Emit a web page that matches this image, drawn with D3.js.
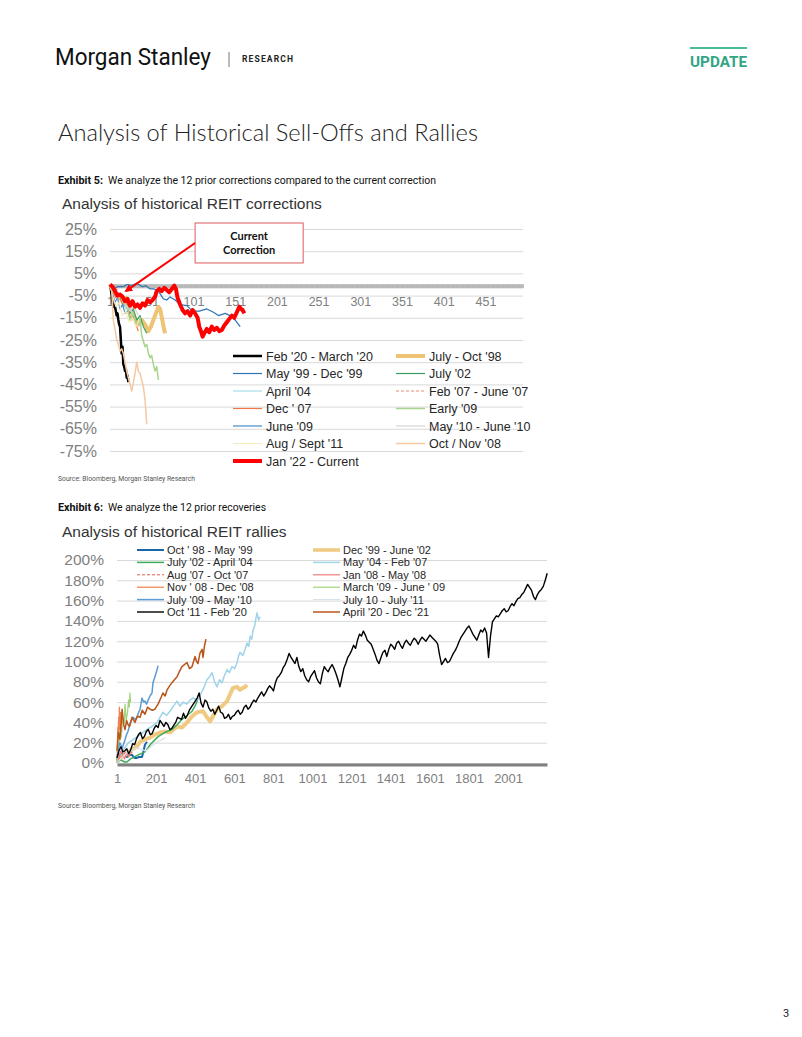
<!DOCTYPE html>
<html><head><meta charset="utf-8">
<script src="https://cdn.jsdelivr.net/npm/d3@7"></script>
<style>body{margin:0;background:#fff}svg{display:block}</style>
</head><body>
<svg id="page" width="802" height="1037"></svg>
<script>
// ---------------- DATA: chart 1 (corrections) ----------------
const c1Ticks = [1, 51, 101, 151, 201, 251, 301, 351, 401, 451];
const c1YTicks = [25, 15, 5, -5, -15, -25, -35, -45, -55, -65, -75];
// [day, % change]
const feb20 = [[1,0],[2,-2],[3,-5],[4,-8],[5,-10],[6,-9],[7,-10],[8,-12],[9,-14],[10,-13],[11,-16],[12,-18],[13,-19],[14,-25],[15,-31],[16,-28],[17,-36],[18,-37],[19,-39],[20,-38],[21,-42],[22,-41],[23,-44]];
const jul98 = [[1,0],[5,-3],[10,-5],[15,-7],[20,-6],[23,-8],[27,-12],[31,-15.5],[35,-18],[39,-16],[43,-18],[47,-21],[50,-19],[53,-16],[57,-12],[59,-10],[61,-11],[63,-14.6],[65,-18.7],[67,-22]];
const may99 = [[1,0],[5,-2],[10,-1],[17,-1],[21,0],[27,-0.5],[33,0.5],[40,-1],[44,-0.5],[49,-2],[54,-2],[59,-3],[65,-6.5],[69,-7],[73,-5.6],[79,-7],[85,-9],[93,-9.5],[100,-12],[108,-12],[117,-11],[125,-12.5],[131,-14],[139,-13],[145,-14],[151,-16],[155,-18],[157,-19]];
const jul02 = [[1,0],[5,-2],[9,-6],[13,-5],[17,-10],[21,-8],[25,-13],[29,-11],[33,-16],[37,-14],[41,-19],[45,-22]];
const apr04 = [[1,0],[4,-2],[8,-5],[12,-4],[16,-8],[20,-11],[24,-9],[28,-14],[32,-16]];
const feb07 = [[1,0],[5,-3],[9,-2],[13,-6],[17,-5],[21,-9],[25,-8],[28,-11]];
const dec07 = [[1,0],[4,-3],[8,-6],[12,-5],[16,-9],[20,-8],[24,-13],[27,-16],[30,-14],[33,-19],[35,-21]];
const early09 = [[1,0],[5,-2],[11,-6],[13,-4],[17,-8],[21,-10],[25,-16],[29,-13],[32,-17],[35,-18],[37,-15],[39,-23],[43,-28],[45,-27],[47,-31],[49,-33],[51,-32],[53,-36],[55,-39],[57,-37],[59,-43]];
const jun09 = [[1,0],[4,-4],[7,-8],[10,-6],[13,-11],[16,-9],[19,-13],[22,-12]];
const may10 = [[1,0],[5,-3],[10,-6],[15,-5],[20,-9],[25,-12],[30,-10],[35,-14]];
const aug11 = [[1,0],[4,-5],[8,-10],[12,-8],[16,-14],[20,-12],[24,-17],[28,-15],[32,-19],[36,-16]];
const octNov08 = [[1,0],[3,-2],[5,-16],[7,-20],[9,-25],[11,-27],[13,-30],[15,-29],[17,-31],[19,-35],[21,-39],[23,-42],[25,-45],[27,-48],[29,-44],[31,-40],[33,-35],[35,-39],[37,-40],[39,-43],[41,-46],[43,-52],[44,-57],[45,-63]];
const jan22 = [[1,0],[4,-1],[7,-3],[10,-5],[13,-4.5],[16,-5.5],[19,-7.5],[22,-6.5],[25,-9.5],[28,-7.5],[31,-10],[34,-9],[37,-10.5],[40,-8.5],[43,-9.5],[46,-7],[49,-8],[52,-7],[55,-5.5],[57,-3],[60,-2],[63,-3],[66,-1.5],[69,-2.5],[72,-3.5],[75,-2],[78,-0.5],[80,-2],[82,-6],[85,-9],[88,-11.5],[91,-13],[94,-12],[97,-14],[100,-11.5],[103,-13],[106,-15],[108,-19],[110,-21],[112,-23.5],[114,-22],[117,-20],[120,-21.5],[123,-19],[126,-20.5],[129,-19.5],[132,-21],[135,-20.5],[138,-18.5],[141,-17],[144,-15.5],[147,-14],[150,-15],[153,-12.5],[156,-10],[158,-11],[160,-11.5],[162,-13]];

// ---------------- DATA: chart 2 (rallies) ----------------
const c2Ticks = [1, 201, 401, 601, 801, 1001, 1201, 1401, 1601, 1801, 2001];
const c2YTicks = [0, 20, 40, 60, 80, 100, 120, 140, 160, 180, 200];
const oct98 = [[1,3],[10,8],[27,10],[40,7],[52,6],[65,8],[78,8],[90,5],[103,5],[115,6],[129,6],[137,12],[144,18],[154,21]];
const dec99 = [[1,3],[20,5],[40,8],[52,9],[75,13],[103,16],[119,21],[140,23],[170,25],[195,28],[221,30],[245,31],[272,30],[290,33],[308,36],[333,35],[359,40],[385,46],[410,50],[441,51],[461,45],[477,41],[495,47],[513,53],[538,56],[564,61],[580,68],[594,74],[615,75],[630,72],[645,74],[656,75],[666,77]];
const jul02r = [[1,0],[20,3],[40,1],[52,1],[70,4],[90,6],[110,8],[144,11],[175,19],[211,26],[245,30],[282,33],[310,38],[333,43],[360,47],[385,51],[400,56],[415,63]];
const may04 = [[1,3],[20,10],[40,15],[60,20],[83,23],[120,28],[154,33],[180,36],[206,40],[236,50],[255,47],[272,51],[290,56],[308,61],[323,56],[340,60],[359,58],[375,62],[390,64],[410,62],[426,67],[445,74],[461,82],[475,85],[487,89],[500,80],[513,75],[525,82],[538,79],[550,86],[564,92],[576,89],[589,95],[603,93],[615,99],[622,105],[630,109],[645,106],[656,112],[666,118],[675,115],[682,125],[690,122],[697,131],[705,135],[711,142],[717,148],[725,141],[733,144]];
const aug07 = [[1,0],[10,3],[20,8],[30,6],[40,10],[50,12]];
const jan08 = [[1,0],[10,5],[20,12],[30,8],[40,4],[50,10],[60,6],[70,9],[80,11]];
const nov08 = [[1,0],[3,20],[5,35],[7,28],[9,45],[11,30],[13,55],[15,40],[17,33],[19,50],[21,38],[23,45],[25,30]];
const mar09 = [[1,0],[8,15],[15,30],[22,25],[30,45],[38,40],[42,58],[48,42],[55,50],[60,62],[64,55],[67,69],[70,60]];
const jul09 = [[1,5],[15,20],[28,15],[42,23],[50,28],[57,31],[70,40],[83,45],[95,43],[103,45],[112,50],[119,53],[129,64],[137,60],[144,61],[152,58],[160,62],[170,66],[180,69],[185,79],[195,85],[206,92],[211,96]];
const jul10 = [[1,0],[50,10],[100,15],[150,12],[200,20],[250,25]];
// Oct '11 - Feb '20, one reading every 10 trading days starting at day 1
const oct11Days = d3.range(1, 2202, 10);
const oct11Vals = [5,12,16,11,12,14,9,13,19,18, 24,28,30,24,26,31,33,28,29,34, 37,35,42,39,36,40,38,33,34,37,
  40,45,44,43,49,44,47,52,55,58, 61,64,69,59,55,62,60,54,51,53, 48,52,56,50,49,44,45,48,43,46,
  47,50,52,48,50,55,57,53,55,59, 62,60,64,67,70,66,69,73,76,74, 71,79,84,86,89,94,97,102,108,104,
  101,98,104,95,90,93,86,82,80,85, 88,91,84,80,78,88,95,92,90,94, 97,93,88,82,75,84,93,98,104,107,
  111,116,113,121,127,125,130,126,121,119, 117,112,107,101,98,104,109,111,105,112, 117,115,112,118,120,116,113,118,121,118,
  116,120,123,121,117,121,124,122,120,123, 126,124,122,120,117,106,97,100,103,99, 100,104,108,111,115,120,124,127,130,133,
  135,131,127,124,121,126,131,129,133,128, 104,125,139,142,145,144,147,150,152,149, 150,154,157,155,159,162,163,166,168,172,
  176,173,170,164,161,166,169,171,174,180, 187];
const apr20 = [[1,12],[8,30],[16,23],[27,53],[35,38],[42,33],[50,42],[57,38],[65,36],[78,45],[93,40],[105,46],[119,45],[130,52],[144,48],[157,55],[170,53],[182,52],[195,53],[211,58],[225,64],[236,69],[247,66],[257,72],[270,76],[282,79],[295,82],[308,85],[320,90],[333,95],[346,97],[359,99],[372,93],[385,95],[400,105],[408,100],[415,98],[425,108],[436,112],[441,104],[448,115],[456,122]];

// ---------------- STYLE CONFIG ----------------
const series1 = [
  {name:"Feb '20 - March '20", data:feb20, color:"#000000", w:2.5},
  {name:"July - Oct '98", data:jul98, color:"#eec373", w:4},
  {name:"May '99 - Dec '99", data:may99, color:"#2e75b6", w:1.2},
  {name:"July '02", data:jul02, color:"#3a9d5d", w:1.2},
  {name:"April '04", data:apr04, color:"#a9dbe8", w:1.2},
  {name:"Feb '07 - June '07", data:feb07, color:"#e8877a", w:1.2, dash:"3,2"},
  {name:"Dec ' 07", data:dec07, color:"#f07848", w:1.2},
  {name:"Early '09", data:early09, color:"#a6d48a", w:1.5},
  {name:"June '09", data:jun09, color:"#4a8cc8", w:1.2},
  {name:"May '10 - June '10", data:may10, color:"#d5d5d5", w:1.2},
  {name:"Aug / Sept '11", data:aug11, color:"#f5ecc0", w:1.2},
  {name:"Oct / Nov '08", data:octNov08, color:"#f5c8a2", w:1.5},
  {name:"Jan '22 - Current", data:jan22, color:"#ff0000", w:4}
];
const series2 = [
  {name:"Oct ' 98 - May '99", data:oct98, color:"#1a66aa", w:2},
  {name:"Dec '99 - June '02", data:dec99, color:"#efca80", w:4},
  {name:"July '02 - April '04", data:jul02r, color:"#3cab5a", w:1.5},
  {name:"May '04 - Feb '07", data:may04, color:"#9fd4ea", w:1.5},
  {name:"Aug '07 - Oct '07", data:aug07, color:"#e0604a", w:1, dash:"3,2"},
  {name:"Jan '08 - May '08", data:jan08, color:"#f07a7a", w:1.2},
  {name:"Nov ' 08 - Dec '08", data:nov08, color:"#f08050", w:1.2},
  {name:"March '09 - June ' 09", data:mar09, color:"#9fd27a", w:1.2},
  {name:"July '09 - May '10", data:jul09, color:"#5b9bd5", w:1.5},
  {name:"July 10 - July '11", data:jul10, color:"#d9e2ec", w:1.2},
  {name:"Oct '11 - Feb '20", data:oct11Days.map((d,i)=>[d, oct11Vals[i]]), color:"#000000", w:1.4},
  {name:"April '20 - Dec '21", data:apr20, color:"#b8561a", w:1.5}
];

const svg = d3.select("#page");
const SANS = "'Liberation Sans', Arial, sans-serif";
const RB = "Roboto, 'Liberation Sans', sans-serif";

// ---------------- HEADER ----------------
svg.append("text").attr("x",55).attr("y",65).attr("font-family",RB).attr("font-size",24)
  .attr("fill","#111").attr("textLength",156).attr("lengthAdjust","spacingAndGlyphs").text("Morgan Stanley");
svg.append("line").attr("x1",229).attr("x2",229).attr("y1",52).attr("y2",67).attr("stroke","#777").attr("stroke-width",1);
svg.append("text").attr("x",242).attr("y",62).attr("font-family",RB).attr("font-weight","bold").attr("font-size",8.5)
  .attr("fill","#222").attr("textLength",51).attr("lengthAdjust","spacing").text("RESEARCH");
svg.append("line").attr("x1",690).attr("x2",747).attr("y1",48).attr("y2",48).attr("stroke","#4cbb9a").attr("stroke-width",2);
svg.append("text").attr("x",690).attr("y",67).attr("font-family",RB).attr("font-weight","bold").attr("font-size",15)
  .attr("fill","#32a584").attr("textLength",57).attr("lengthAdjust","spacingAndGlyphs").text("UPDATE");
svg.append("text").attr("x",58).attr("y",141).attr("font-family","Lato, 'Open Sans', sans-serif").attr("font-weight",300)
  .attr("font-size",24).attr("fill","#222").attr("textLength",420).attr("lengthAdjust","spacingAndGlyphs")
  .text("Analysis of Historical Sell-Offs and Rallies");

function exhibit(y, label, txt, x2){
  svg.append("text").attr("x",58).attr("y",y).attr("font-family",RB).attr("font-weight","bold").attr("font-size",10)
    .attr("fill","#111").attr("textLength",45).attr("lengthAdjust","spacingAndGlyphs").text(label);
  svg.append("text").attr("x",108).attr("y",y).attr("font-family",RB).attr("font-size",10)
    .attr("fill","#111").attr("textLength",x2-108).attr("lengthAdjust","spacingAndGlyphs").text(txt);
}
exhibit(184, "Exhibit 5:", "We analyze the 12 prior corrections compared to the current correction", 436);
exhibit(511, "Exhibit 6:", "We analyze the 12 prior recoveries", 266);

function source(y){
  svg.append("text").attr("x",58).attr("y",y).attr("font-family",RB).attr("font-size",7.5)
    .attr("fill","#555").attr("textLength",137).attr("lengthAdjust","spacingAndGlyphs")
    .text("Source: Bloomberg, Morgan Stanley Research");
}
source(481);
source(808);
svg.append("text").attr("x",786).attr("y",1017).attr("font-family",RB).attr("font-size",11).attr("fill","#222")
  .attr("text-anchor","middle").text("3");

// ---------------- CHART 1 ----------------
const x1 = d3.scaleLinear().domain([1, 496]).range([110, 523]);
const y1 = d3.scaleLinear().domain([-75, 25]).range([451, 229]);

svg.append("text").attr("x",62).attr("y",209).attr("font-family",SANS).attr("font-size",15.5).attr("fill","#333")
  .text("Analysis of historical REIT corrections");

const g1y = svg.append("g").attr("transform",`translate(${x1.range()[0]},0)`)
  .call(d3.axisLeft(y1).tickValues(c1YTicks).tickSize(-(x1.range()[1]-x1.range()[0])).tickPadding(13).tickFormat(d=>d+"%"));
g1y.select(".domain").remove();
g1y.selectAll(".tick line").attr("stroke","#d9d9d9").attr("stroke-width",1);
g1y.selectAll(".tick text").attr("font-family",SANS).attr("font-size",16).attr("fill","#808080");

// hatched category axis
const g1h = svg.append("g").attr("transform",`translate(0,${y1(0)-0.5})`)
  .call(d3.axisBottom(x1).tickValues(d3.range(1,497)).tickSize(4).tickSizeOuter(0).tickFormat(""));
g1h.select(".domain").attr("stroke","#d2d2d2").attr("stroke-width",4).attr("transform","translate(0,2)");
g1h.selectAll(".tick line").attr("stroke","#a3a3a3").attr("stroke-width",0.5);

const g1x = svg.append("g").attr("transform","translate(0,297)")
  .call(d3.axisBottom(x1).tickValues(c1Ticks).tickSize(0).tickPadding(0).tickFormat(d3.format("d")));
g1x.select(".domain").remove();
g1x.selectAll(".tick text").attr("font-family",SANS).attr("font-size",12.5).attr("fill","#808080");

const line1 = d3.line().x(d=>x1(d[0])).y(d=>y1(d[1]));
series1.forEach(s=>{
  svg.append("path").datum(s.data).attr("d",line1).attr("fill","none").attr("stroke",s.color)
    .attr("stroke-width",s.w).attr("stroke-linejoin","round").attr("stroke-dasharray",s.dash||null);
});

// annotation (placed in data units)
const ann = {box:[103, 232.5, 27.7, 9.7], from:[103, 18.7], to:[20, -3]};
svg.append("rect").attr("x",x1(ann.box[0])).attr("y",y1(ann.box[2]))
  .attr("width",x1(ann.box[1])-x1(ann.box[0])).attr("height",y1(ann.box[3])-y1(ann.box[2]))
  .attr("fill","#fff").attr("stroke","#e05a5a").attr("stroke-width",1);
const cx = (x1(ann.box[0])+x1(ann.box[1]))/2;
svg.append("text").attr("x",cx).attr("y",y1(20)).attr("text-anchor","middle").attr("font-family","Lato, 'Open Sans', sans-serif")
  .attr("font-weight","bold").attr("font-size",11).attr("fill","#111").text("Current");
svg.append("text").attr("x",cx).attr("y",y1(13.6)).attr("text-anchor","middle").attr("font-family","Lato, 'Open Sans', sans-serif")
  .attr("font-weight","bold").attr("font-size",11).attr("fill","#111").text("Correction");
svg.append("defs").append("marker").attr("id","ah").attr("viewBox","0 0 10 10").attr("refX",8).attr("refY",5)
  .attr("markerWidth",4).attr("markerHeight",4).attr("orient","auto")
  .append("path").attr("d","M0,0L10,5L0,10z").attr("fill","#ff0000");
svg.append("line").attr("x1",x1(ann.from[0])).attr("y1",y1(ann.from[1])).attr("x2",x1(ann.to[0])).attr("y2",y1(ann.to[1]))
  .attr("stroke","#ff0000").attr("stroke-width",2).attr("marker-end","url(#ah)");

// legend 1
const L1 = {x:[233, 396], y0:356, dy:17.5, len:29};
series1.forEach((s,i)=>{
  const col = i===12 ? 0 : i%2, row = Math.floor(i/2);
  const lx = L1.x[col], ly = L1.y0 + row*L1.dy;
  svg.append("line").attr("x1",lx).attr("x2",lx+L1.len).attr("y1",ly).attr("y2",ly)
    .attr("stroke",s.color).attr("stroke-width",s.w).attr("stroke-dasharray",s.dash||null);
  svg.append("text").attr("x",lx+L1.len+4).attr("y",ly).attr("dy","0.36em").attr("font-family",SANS)
    .attr("font-size",12.5).attr("fill","#262626").text(s.name);
});

// ---------------- CHART 2 ----------------
const x2 = d3.scaleLinear().domain([1, 2200]).range([117, 547]);
const y2 = d3.scaleLinear().domain([0, 200]).range([763, 560]);

svg.append("text").attr("x",62).attr("y",537).attr("font-family",SANS).attr("font-size",15.5).attr("fill","#333")
  .text("Analysis of historical REIT rallies");

const g2y = svg.append("g").attr("transform",`translate(${x2.range()[0]},0)`)
  .call(d3.axisLeft(y2).tickValues(c2YTicks).tickSize(-(x2.range()[1]-x2.range()[0])).tickPadding(13).tickFormat(d=>d+"%"));
g2y.select(".domain").remove();
g2y.selectAll(".tick line").attr("stroke","#d9d9d9").attr("stroke-width",1);
g2y.selectAll(".tick text").attr("font-family",SANS).attr("font-size",15.5).attr("fill","#808080");

const g2b = svg.append("g").attr("transform",`translate(0,${y2(0)+1.5})`)
  .call(d3.axisBottom(x2).tickValues([]).tickSizeOuter(0));
g2b.select(".domain").attr("stroke","#808080").attr("stroke-width",3);

const g2x = svg.append("g").attr("transform","translate(0,773.5)")
  .call(d3.axisBottom(x2).tickValues(c2Ticks).tickSize(0).tickPadding(0).tickFormat(d3.format("d")));
g2x.select(".domain").remove();
g2x.selectAll(".tick text").attr("font-family",SANS).attr("font-size",13).attr("fill","#808080");

const line2 = d3.line().x(d=>x2(d[0])).y(d=>y2(d[1]));
series2.forEach(s=>{
  svg.append("path").datum(s.data).attr("d",line2).attr("fill","none").attr("stroke",s.color)
    .attr("stroke-width",s.w).attr("stroke-linejoin","round").attr("stroke-dasharray",s.dash||null);
});

// legend 2
const L2 = {x:[137, 313], y0:550, dy:12.4, len:27};
series2.forEach((s,i)=>{
  const col = i%2, row = Math.floor(i/2);
  const lx = L2.x[col], ly = L2.y0 + row*L2.dy;
  svg.append("line").attr("x1",lx).attr("x2",lx+L2.len).attr("y1",ly).attr("y2",ly)
    .attr("stroke",s.color).attr("stroke-width",Math.min(s.w,3.5)).attr("stroke-dasharray",s.dash||null);
  svg.append("text").attr("x",lx+L2.len+3).attr("y",ly).attr("dy","0.36em").attr("font-family",SANS)
    .attr("font-size",11).attr("fill","#262626").text(s.name);
});
</script>
</body></html>
